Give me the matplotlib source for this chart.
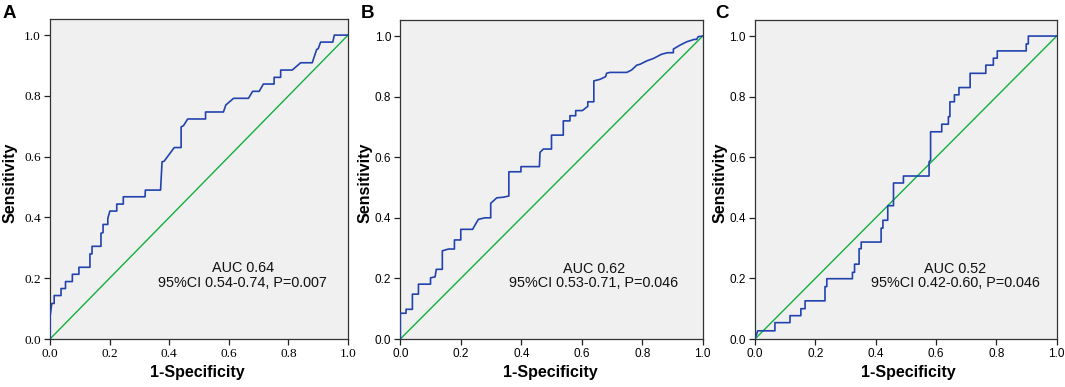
import matplotlib
matplotlib.use("Agg")
import matplotlib.pyplot as plt

# ---- data ----
fpr_A = [0, 0, 0.006, 0.014, 0.014, 0.037, 0.037, 0.052, 0.052, 0.075, 0.075, 0.097, 0.097,
         0.134, 0.134, 0.141, 0.141, 0.171, 0.171, 0.178, 0.178, 0.194, 0.194, 0.201, 0.224,
         0.224, 0.246, 0.246, 0.319, 0.320, 0.371, 0.376, 0.383, 0.417, 0.440, 0.440, 0.448,
         0.462, 0.522, 0.522, 0.582, 0.590, 0.616, 0.666, 0.680, 0.702, 0.716, 0.752, 0.752,
         0.774, 0.774, 0.813, 0.841, 0.880, 0.895, 0.900, 0.908, 0.949, 0.954, 1.0]
tpr_A = [0, 0.072, 0.117, 0.117, 0.143, 0.143, 0.166, 0.166, 0.189, 0.189, 0.213, 0.213, 0.236,
         0.236, 0.280, 0.280, 0.305, 0.305, 0.348, 0.350, 0.377, 0.377, 0.397, 0.421, 0.421,
         0.444, 0.444, 0.468, 0.468, 0.490, 0.490, 0.583, 0.585, 0.630, 0.630, 0.698, 0.702,
         0.724, 0.724, 0.747, 0.747, 0.770, 0.792, 0.792, 0.815, 0.815, 0.839, 0.839, 0.861,
         0.861, 0.885, 0.885, 0.909, 0.909, 0.953, 0.955, 0.977, 0.977, 1.0, 1.0]

fpr_B = [0, 0, 0.019, 0.019, 0.040, 0.040, 0.060, 0.060, 0.100, 0.100, 0.115, 0.119, 0.139,
         0.139, 0.159, 0.179, 0.179, 0.200, 0.200, 0.239, 0.258, 0.280, 0.299, 0.299, 0.319,
         0.341, 0.359, 0.359, 0.399, 0.399, 0.460, 0.462, 0.473, 0.500, 0.500, 0.539, 0.539,
         0.561, 0.561, 0.580, 0.580, 0.602, 0.620, 0.620, 0.640, 0.640, 0.660, 0.679, 0.682,
         0.693, 0.749, 0.765, 0.782, 0.793, 0.815, 0.837, 0.864, 0.884, 0.903, 0.903, 0.925,
         0.947, 0.972, 0.980, 0.985, 1.0]
tpr_B = [0, 0.085, 0.085, 0.098, 0.098, 0.148, 0.148, 0.181, 0.181, 0.202, 0.205, 0.230, 0.230,
         0.291, 0.297, 0.297, 0.327, 0.327, 0.362, 0.362, 0.395, 0.400, 0.400, 0.448, 0.466,
         0.468, 0.472, 0.552, 0.552, 0.569, 0.569, 0.616, 0.627, 0.627, 0.673, 0.673, 0.720,
         0.720, 0.737, 0.737, 0.754, 0.754, 0.768, 0.783, 0.783, 0.852, 0.857, 0.866, 0.877,
         0.880, 0.880, 0.888, 0.904, 0.907, 0.918, 0.926, 0.940, 0.945, 0.945, 0.957, 0.970,
         0.981, 0.989, 0.989, 0.998, 1.0]

fpr_C = [0, 0.009, 0.066, 0.066, 0.116, 0.116, 0.152, 0.152, 0.166, 0.166, 0.232, 0.232, 0.238,
         0.238, 0.323, 0.323, 0.330, 0.330, 0.345, 0.345, 0.352, 0.352, 0.418, 0.418, 0.424,
         0.424, 0.440, 0.440, 0.459, 0.459, 0.492, 0.492, 0.577, 0.577, 0.582, 0.582, 0.619,
         0.619, 0.641, 0.641, 0.646, 0.646, 0.661, 0.661, 0.676, 0.676, 0.713, 0.713, 0.765,
         0.765, 0.790, 0.790, 0.803, 0.803, 0.899, 0.899, 0.906, 0.906, 1.0]
tpr_C = [0, 0.027, 0.027, 0.054, 0.054, 0.077, 0.077, 0.100, 0.100, 0.126, 0.126, 0.173, 0.173,
         0.199, 0.199, 0.220, 0.220, 0.247, 0.247, 0.298, 0.298, 0.320, 0.320, 0.366, 0.366,
         0.392, 0.392, 0.440, 0.440, 0.515, 0.515, 0.538, 0.538, 0.585, 0.590, 0.684, 0.684,
         0.709, 0.709, 0.734, 0.734, 0.783, 0.783, 0.806, 0.806, 0.830, 0.830, 0.877, 0.877,
         0.904, 0.904, 0.927, 0.927, 0.951, 0.951, 0.974, 0.974, 1.0, 1.0]

panel_letters = ["A", "B", "C"]
auc_text = ["AUC 0.64", "AUC 0.62", "AUC 0.52"]
ci_text = ["95%CI 0.54-0.74, P=0.007", "95%CI 0.53-0.71, P=0.046", "95%CI 0.42-0.60, P=0.046"]
ticks = [0.0, 0.2, 0.4, 0.6, 0.8, 1.0]
tick_labels = ["0.0", "0.2", "0.4", "0.6", "0.8", "1.0"]

# ---- layout ----
W, H = 1065, 387
fig = plt.figure(figsize=(W / 100, H / 100), dpi=100)
boxes = [(50, 348, 19, 339), (400.3, 702.7, 20, 339), (755, 1056.7, 20, 339)]
ylab_px = [10, 365, 720]
xlab_px = [197, 550.5, 908.7]
text_x = [0.647, 0.640, 0.663]
letter_x = [3, 361, 715]
tick_font = ["Liberation Serif", "Liberation Sans", "Liberation Sans"]
tick_size = [9.5, 8.5, 8.5]

series = [(fpr_A, tpr_A), (fpr_B, tpr_B), (fpr_C, tpr_C)]
blue = "#2243AE"
green = "#12B03C"

for i, ((l, r, t, b), (fx, ty)) in enumerate(zip(boxes, series)):
    ax = fig.add_axes([l / W, (H - b) / H, (r - l) / W, (b - t) / H])
    ax.set_facecolor("#F0F0F0")
    ax.plot([0, 1], [0, 1], color=green, lw=1.0, zorder=2)
    ax.plot(fx, ty, color=blue, lw=1.2, zorder=3)
    ax.set_xlim(0, 1)
    ax.set_ylim(0, 1.053)
    ax.set_xticks(ticks)
    ax.set_yticks(ticks)
    ax.set_xticklabels(tick_labels, family=tick_font[i], fontsize=tick_size[i])
    ax.set_yticklabels(tick_labels, family=tick_font[i], fontsize=tick_size[i])
    ax.tick_params(direction="out", length=4.5, width=0.9, color="#222222", pad=2)
    for sp in ax.spines.values():
        sp.set_linewidth(0.9)
        sp.set_color("#333333")
    fig.text(ylab_px[i] / W, 1 - 183 / H, "Sensitivity", rotation=90, ha="center", va="center",
             fontsize=11.5, fontweight="bold", family="Liberation Sans")
    fig.text(xlab_px[i] / W, 1 - 373 / H, "1-Specificity", ha="center", va="center",
             fontsize=11.5, fontweight="bold", family="Liberation Sans")
    ax.text(text_x[i], 0.221, auc_text[i], transform=ax.transAxes, ha="center", va="center",
            fontsize=10.4, family="Liberation Sans", color="#111111")
    ax.text(text_x[i], 0.174, ci_text[i], transform=ax.transAxes, ha="center", va="center",
            fontsize=10.4, family="Liberation Sans", color="#111111")
    fig.text(letter_x[i] / W, 1 - 5 / H, panel_letters[i], ha="left", va="top",
             fontsize=13.5, fontweight="bold", family="Liberation Sans")

fig.savefig("out.png", dpi=100)
